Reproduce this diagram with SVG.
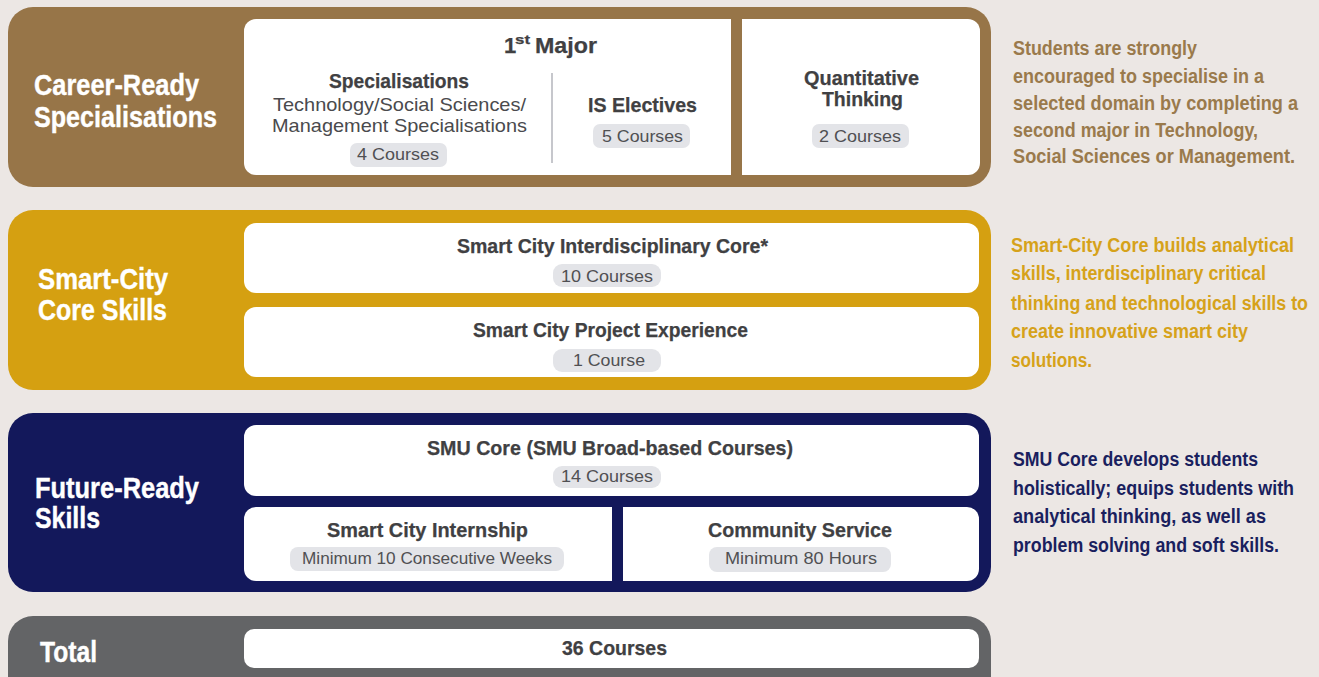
<svg xmlns="http://www.w3.org/2000/svg" width="1319" height="677" viewBox="0 0 1319 677">
<style>
.b{font-family:"Liberation Sans",Arial,sans-serif;font-weight:bold;}
.r{font-family:"Liberation Sans",Arial,sans-serif;font-weight:normal;}
.lbl{font-size:30px;fill:#ffffff;stroke:#ffffff;stroke-width:0.4px;}
.ttl{font-size:21px;fill:#404042;stroke:#404042;stroke-width:0.25px;}
.sub{font-size:19px;fill:#4a4a4d;}
.pt{font-size:16px;fill:#505053;}
.pill{fill:#e3e4e8;}
.wb{fill:#ffffff;}
.side{font-size:19.5px;}
</style>
<rect width="1319" height="677" fill="#ece7e4"/>

<g id="career-ready">
<rect x="8" y="7" width="983" height="180" rx="25" fill="#977548"/>
<text class="b lbl" x="34" y="95" textLength="165" lengthAdjust="spacingAndGlyphs">Career-Ready</text>
<text class="b lbl" x="34" y="127" textLength="183" lengthAdjust="spacingAndGlyphs">Specialisations</text>
</g>
<g id="first-major">
<path class="wb" d="M256,19 H731 V175 H256 A12 12 0 0 1 244,163 V31 A12 12 0 0 1 256,19 Z"/>
<text class="b ttl" x="504" y="53"><tspan x="504" font-size="22">1</tspan><tspan x="515" y="44" font-size="13" textLength="15" lengthAdjust="spacingAndGlyphs">st</tspan><tspan x="535" y="53" font-size="22" textLength="62" lengthAdjust="spacingAndGlyphs">Major</tspan></text>
<line x1="552" y1="73" x2="552" y2="163" stroke="#c6c7cc" stroke-width="2"/>
</g>
<g id="specialisations">
<text class="b ttl" x="329" y="88" textLength="140" lengthAdjust="spacingAndGlyphs">Specialisations</text>
<text class="r sub" x="273" y="111" textLength="253" lengthAdjust="spacingAndGlyphs">Technology/Social Sciences/</text>
<text class="r sub" x="272" y="132" textLength="255" lengthAdjust="spacingAndGlyphs">Management Specialisations</text>
<rect class="pill" x="350" y="143" width="97" height="24" rx="7"/>
<text class="r pt" x="357" y="160" textLength="82" lengthAdjust="spacingAndGlyphs">4 Courses</text>
</g>
<g id="is-electives">
<text class="b ttl" x="588" y="112" textLength="109" lengthAdjust="spacingAndGlyphs">IS Electives</text>
<rect class="pill" x="593" y="124" width="97" height="24" rx="7"/>
<text class="r pt" x="602" y="142" textLength="81" lengthAdjust="spacingAndGlyphs">5 Courses</text>
</g>
<g id="quantitative-thinking">
<path class="wb" d="M742,19 H968 A12 12 0 0 1 980,31 V163 A12 12 0 0 1 968,175 H742 Z"/>
<text class="b ttl" x="804" y="85" textLength="115" lengthAdjust="spacingAndGlyphs">Quantitative</text>
<text class="b ttl" x="822" y="106" textLength="81" lengthAdjust="spacingAndGlyphs">Thinking</text>
<rect class="pill" x="812" y="124" width="97" height="24" rx="7"/>
<text class="r pt" x="819" y="142" textLength="82" lengthAdjust="spacingAndGlyphs">2 Courses</text>
</g>
<g id="note-career" class="b side" fill="#9a7a4c">
<text x="1013" y="55" textLength="184" lengthAdjust="spacingAndGlyphs">Students are strongly</text>
<text x="1013" y="83" textLength="251" lengthAdjust="spacingAndGlyphs">encouraged to specialise in a</text>
<text x="1013" y="110" textLength="285" lengthAdjust="spacingAndGlyphs">selected domain by completing a</text>
<text x="1013" y="137" textLength="245" lengthAdjust="spacingAndGlyphs">second major in Technology,</text>
<text x="1013" y="163" textLength="282" lengthAdjust="spacingAndGlyphs">Social Sciences or Management.</text>
</g>

<g id="smart-city-core-skills">
<rect x="8" y="210" width="983" height="180" rx="25" fill="#d5a011"/>
<text class="b lbl" x="38" y="289" textLength="130" lengthAdjust="spacingAndGlyphs">Smart-City</text>
<text class="b lbl" x="38" y="320" textLength="129" lengthAdjust="spacingAndGlyphs">Core Skills</text>
</g>
<g id="interdisciplinary-core">
<rect class="wb" x="244" y="223" width="735" height="70" rx="12"/>
<text class="b ttl" x="457" y="253" textLength="311" lengthAdjust="spacingAndGlyphs">Smart City Interdisciplinary Core*</text>
<rect class="pill" x="553" y="264" width="108" height="23" rx="9"/>
<text class="r pt" x="561" y="282" textLength="92" lengthAdjust="spacingAndGlyphs">10 Courses</text>
</g>
<g id="project-experience">
<rect class="wb" x="244" y="307" width="735" height="70" rx="12"/>
<text class="b ttl" x="473" y="337" textLength="275" lengthAdjust="spacingAndGlyphs">Smart City Project Experience</text>
<rect class="pill" x="553" y="349" width="108" height="23" rx="9"/>
<text class="r pt" x="573" y="366" textLength="72" lengthAdjust="spacingAndGlyphs">1 Course</text>
</g>
<g id="note-smart-city" class="b side" fill="#d6a21a">
<text x="1011" y="252" textLength="283" lengthAdjust="spacingAndGlyphs">Smart-City Core builds analytical</text>
<text x="1011" y="280" textLength="255" lengthAdjust="spacingAndGlyphs">skills, interdisciplinary critical</text>
<text x="1011" y="310" textLength="297" lengthAdjust="spacingAndGlyphs">thinking and technological skills to</text>
<text x="1011" y="338" textLength="237" lengthAdjust="spacingAndGlyphs">create innovative smart city</text>
<text x="1011" y="367" textLength="81" lengthAdjust="spacingAndGlyphs">solutions.</text>
</g>

<g id="future-ready-skills">
<rect x="8" y="413" width="983" height="179" rx="25" fill="#13185b"/>
<text class="b lbl" x="35" y="498" textLength="164" lengthAdjust="spacingAndGlyphs">Future-Ready</text>
<text class="b lbl" x="35" y="528" textLength="65" lengthAdjust="spacingAndGlyphs">Skills</text>
</g>
<g id="smu-core">
<rect class="wb" x="244" y="425" width="735" height="71" rx="12"/>
<text class="b ttl" x="427" y="455" textLength="366" lengthAdjust="spacingAndGlyphs">SMU Core (SMU Broad-based Courses)</text>
<rect class="pill" x="553" y="466" width="108" height="22" rx="9"/>
<text class="r pt" x="561" y="482" textLength="92" lengthAdjust="spacingAndGlyphs">14 Courses</text>
</g>
<g id="internship">
<path class="wb" d="M256,507 H612 V581 H256 A12 12 0 0 1 244,569 V519 A12 12 0 0 1 256,507 Z"/>
<text class="b ttl" x="327" y="537" textLength="201" lengthAdjust="spacingAndGlyphs">Smart City Internship</text>
<rect class="pill" x="290" y="547" width="274" height="24" rx="8"/>
<text class="r pt" x="302" y="564" textLength="250" lengthAdjust="spacingAndGlyphs">Minimum 10 Consecutive Weeks</text>
</g>
<g id="community-service">
<path class="wb" d="M623,507 H967 A12 12 0 0 1 979,519 V569 A12 12 0 0 1 967,581 H623 Z"/>
<text class="b ttl" x="708" y="537" textLength="184" lengthAdjust="spacingAndGlyphs">Community Service</text>
<rect class="pill" x="709" y="547" width="182" height="25" rx="8"/>
<text class="r pt" x="725" y="564" textLength="152" lengthAdjust="spacingAndGlyphs">Minimum 80 Hours</text>
</g>
<g id="note-future" class="b side" fill="#1a1f5e">
<text x="1013" y="466" textLength="245" lengthAdjust="spacingAndGlyphs">SMU Core develops students</text>
<text x="1013" y="495" textLength="281" lengthAdjust="spacingAndGlyphs">holistically; equips students with</text>
<text x="1013" y="523" textLength="253" lengthAdjust="spacingAndGlyphs">analytical thinking, as well as</text>
<text x="1013" y="552" textLength="266" lengthAdjust="spacingAndGlyphs">problem solving and soft skills.</text>
</g>

<g id="total">
<rect x="8" y="616" width="983" height="100" rx="25" fill="#636466"/>
<text class="b lbl" x="40" y="662" textLength="57" lengthAdjust="spacingAndGlyphs">Total</text>
<rect class="wb" x="244" y="629" width="735" height="39" rx="10"/>
<text class="b ttl" x="562" y="655" textLength="105" lengthAdjust="spacingAndGlyphs">36 Courses</text>
</g>
</svg>
